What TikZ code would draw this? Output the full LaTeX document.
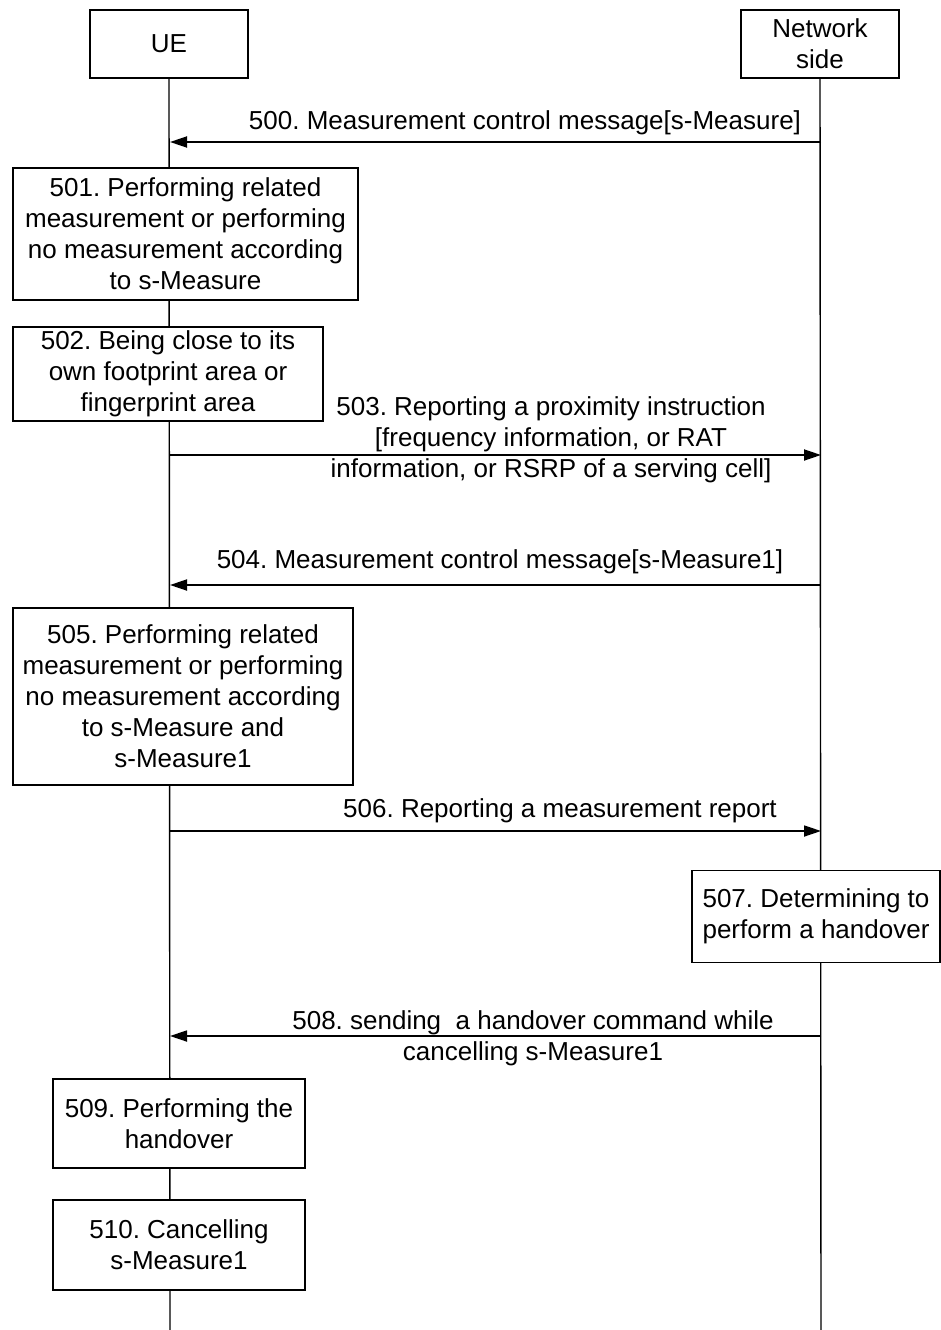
\documentclass[tikz,border=0pt]{standalone}
\usepackage{fontspec}
\setmainfont{Liberation Sans}
\usetikzlibrary{arrows.meta,backgrounds}
\frenchspacing
\begin{document}
\begin{tikzpicture}[x=1pt,y=-1pt,
  box/.style={draw, line width=1.4pt, fill=white, inner sep=0pt, align=center,
    font=\fontsize{26}{31}\selectfont},
  lbl/.style={inner sep=0pt, align=center, font=\fontsize{26}{31}\selectfont},
  msg/.style={line width=1.8pt, -{Triangle[length=17pt,width=11pt]}},
  life/.style={line width=1.4pt}]
\useasboundingbox (0,0) rectangle (940,1330);
% actors
\node[box, minimum width=158pt, minimum height=68pt] (ue) at (169,44) {UE};
\node[box, minimum width=158pt, minimum height=68pt] (nw) at (820,44) {Network\\side};
\coordinate (ueend) at (170,1330);
\coordinate (nwend) at (821,1330);
\begin{scope}[on background layer]
  \draw[life] (ue.south) -- (ueend);
  \draw[life] (nw.south) -- (nwend);
\end{scope}
% 500
\coordinate (n500) at (821,142);
\coordinate (u500) at (170,142);
\draw[msg] (n500) -- (u500);
\node[lbl] (l500) at (525,122.5) {500. Measurement control message[s-Measure]};
% 501
\node[box, minimum width=345pt, minimum height=132pt] (b501) at (185.5,234)
  {501. Performing related\\measurement or performing\\no measurement according\\to s-Measure};
% 502
\node[box, minimum width=310pt, minimum height=94pt] (b502) at (168,374)
  {502. Being close to its\\own footprint area or\\fingerprint area};
% 503
\coordinate (u503) at (170,455);
\coordinate (n503) at (821,455);
\draw[msg] (u503) -- (n503);
\node[lbl] (l503) at (551,439.5) {503. Reporting a proximity instruction\\ {[}frequency information, or RAT\\information, or RSRP of a serving cell]};
% 504
\coordinate (n504) at (821,585);
\coordinate (u504) at (170,585);
\draw[msg] (n504) -- (u504);
\node[lbl] (l504) at (500,561.5) {504. Measurement control message[s-Measure1]};
% 505
\node[box, minimum width=340pt, minimum height=177pt] (b505) at (183,696.5)
  {505. Performing related\\measurement or performing\\no measurement according\\to s-Measure and\\s-Measure1};
% 506
\coordinate (u506) at (170,831);
\coordinate (n506) at (821,831);
\draw[msg] (u506) -- (n506);
\node[lbl] (l506) at (560,810.5) {506. Reporting a measurement report};
% 507
\node[box, minimum width=248pt, minimum height=92pt] (b507) at (816,916.5)
  {507. Determining to\\perform a handover};
% 508
\coordinate (n508) at (821,1036);
\coordinate (u508) at (170,1036);
\draw[msg] (n508) -- (u508);
\node[lbl] (l508) at (533,1038) {508. sending\ \ a handover command while\\cancelling s-Measure1};
% 509
\node[box, minimum width=252pt, minimum height=89pt] (b509) at (179,1123.5)
  {509. Performing the\\handover};
% 510
\node[box, minimum width=252pt, minimum height=90pt] (b510) at (179,1245)
  {510. Cancelling\\s-Measure1};
\end{tikzpicture}
\end{document}
